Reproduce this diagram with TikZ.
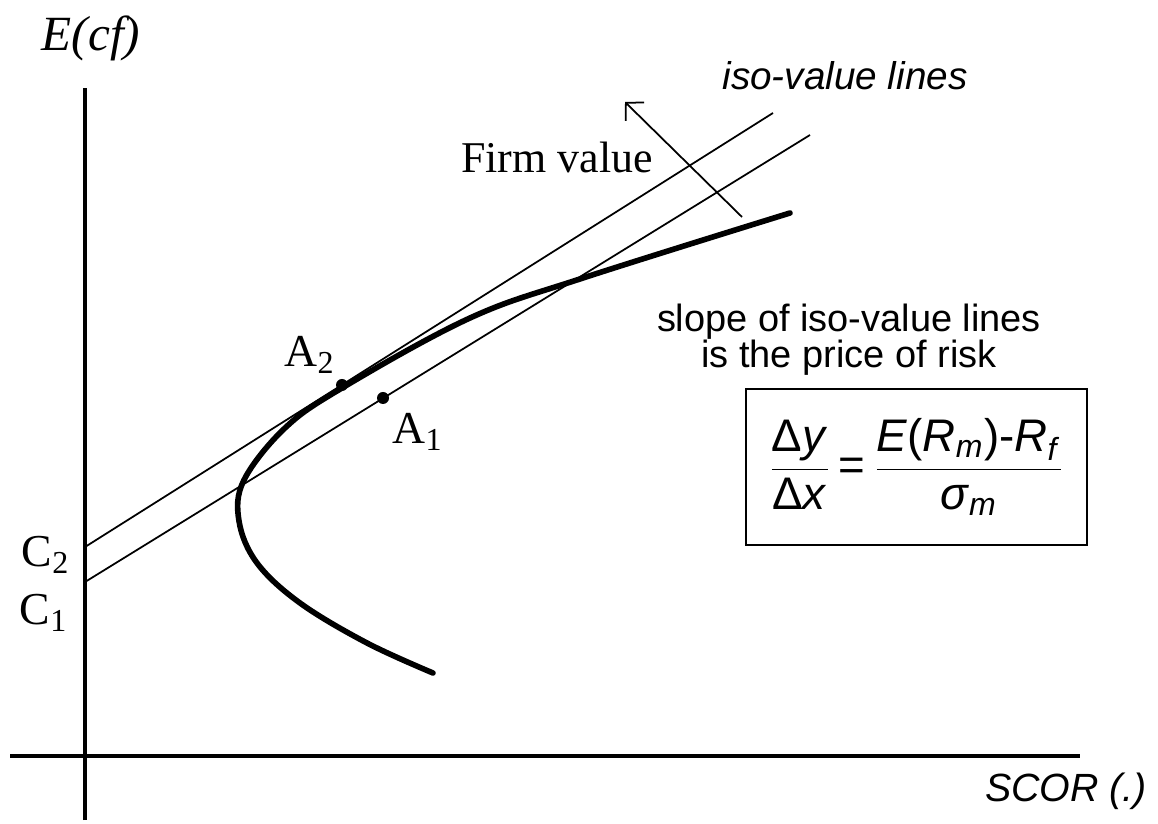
\documentclass[tikz,border=0pt]{standalone}
\usepackage{amsmath}
\usepackage{fontspec}
\setmainfont{Liberation Serif}
\setsansfont{Liberation Sans}
\usepackage{xcolor}
\usepackage{tikz}
\usetikzlibrary{arrows.meta, positioning}

\begin{document}
\begin{tikzpicture}[>={Straight Barb[length=3.6pt, width=7.4pt]},
  axis/.style={line width=1.4pt},
  isoline/.style={line width=0.5pt},
  frontier/.style={line width=1.6pt, line cap=round},
  lbl/.style={font=\fontsize{13}{15}\selectfont, inner sep=1pt},
  note/.style={font=\sffamily\fontsize{10.8}{10.2}\selectfont, align=center, inner sep=1pt},
  formula/.style={rectangle, draw, line width=0.8pt, minimum width=3.41cm,
                  minimum height=1.56cm, inner sep=2pt, font=\sffamily\fontsize{13}{15}\selectfont}
]
  \useasboundingbox (0,0) rectangle (11.58,8.23);

  % axes
  \coordinate (ytop) at (0.85,7.35);
  \coordinate (ybot) at (0.85,0.03);
  \coordinate (xleft) at (0.10,0.67);
  \coordinate (xright) at (10.80,0.67);
  \draw[axis] (ybot) -- (ytop);
  \draw[axis] (xleft) -- (xright);
  \node[lbl, font=\fontsize{14}{16}\selectfont\itshape] (ecf) at (0.91,7.85) {E(cf)};
  \node[note, font=\sffamily\itshape\fontsize{11.2}{13}\selectfont] (scor) at (10.66,0.32) {SCOR (.)};

  % iso-value lines
  \coordinate (c2) at (0.85,2.76);
  \coordinate (c2end) at (7.73,7.10);
  \coordinate (c1) at (0.85,2.41);
  \coordinate (c1end) at (8.10,6.88);
  \draw[isoline] (c2) -- (c2end);
  \draw[isoline] (c1) -- (c1end);
  \node[lbl] (lc2) at (0.46,2.68) {C\textsubscript{2}};
  \node[lbl] (lc1) at (0.44,2.10) {C\textsubscript{1}};
  \node[note, font=\sffamily\itshape\fontsize{11}{13}\selectfont] (iso) at (8.45,7.47) {iso-value lines};

  % efficient frontier
  \draw[frontier] plot[smooth, tension=0.6] coordinates {
    (4.33,1.50) (3.67,1.80) (3.00,2.20) (2.57,2.60) (2.39,3.02) (2.44,3.43)
    (2.85,3.95) (3.42,4.35) (4.70,5.05) (5.83,5.45) (7.90,6.10)};

  % points
  \fill (3.42,4.38) circle (0.06) coordinate (a2);
  \fill (3.83,4.25) circle (0.06) coordinate (a1);
  \node[lbl] (la2) at (3.10,4.68) {A\textsubscript{2}};
  \node[lbl] (la1) at (4.18,3.91) {A\textsubscript{1}};

  % direction of firm value
  \coordinate (fvfrom) at (7.42,6.06);
  \coordinate (fvto) at (6.25,7.21);
  \draw[isoline, ->] (fvfrom) -- (fvto);
  \node[lbl, font=\fontsize{12.5}{15}\selectfont] (fv) at (5.57,6.66) {Firm value};

  % price of risk
  \node[note] (slope) at (8.49,4.83) {slope of iso-value lines\\is the price of risk};
  \node[formula] (box) at (9.165,3.56)
    {$\displaystyle\frac{\text{Δ\textit{y}}}{\text{Δ\textit{x}}}
      \,\text{=}\,
      \frac{\text{\textit{E}(\textit{R}$_{\text{\textit{m}}}$)-\textit{R}$_{\text{\textit{f}}}$}}
           {\text{\textit{σ}$_{\text{\textit{m}}}$}}$};
\end{tikzpicture}
\end{document}
